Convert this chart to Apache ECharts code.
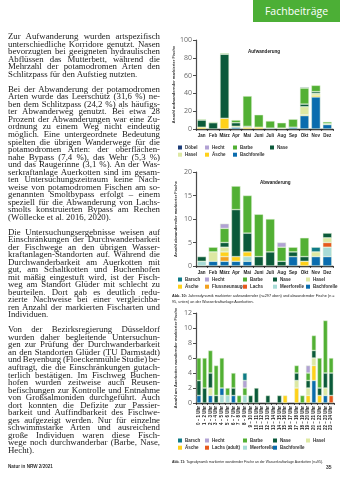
<!DOCTYPE html>
<html lang="de">
<head>
<meta charset="utf-8">
<title>Fachbeiträge – Auerkotten</title>
<script src="https://cdn.jsdelivr.net/npm/echarts@6/dist/echarts.min.js"></script>
<style>
  html, body { margin: 0; padding: 0; background: #fff; }
  #page { position: relative; width: 340px; height: 481px; overflow: hidden; background: #fff; }
  #chart { position: absolute; left: 0; top: 0; width: 340px; height: 481px; }
  #head { position: absolute; left: 253px; top: 0; width: 87px; height: 22px; background: #4caf36;
          color: #fff; font-family: 'Open Sans', 'Noto Sans', sans-serif; font-size: 10.5px;
          line-height: 23px; text-align: center; }
  #col { position: absolute; left: 8px; top: 33.3px; width: 152px;
         font-family: 'Liberation Serif', 'DejaVu Serif', serif; font-size: 8.8px; color: #1a1a1a; }
  #col .l { height: 7.53px; line-height: 7.53px; white-space: nowrap; }
  #col .gap { height: 7.53px; }
  .cap { position: absolute; left: 172px; font-family: 'Liberation Sans', 'Noto Sans', sans-serif;
         font-size: 4px; line-height: 6px; color: #222; white-space: nowrap; }
  .cap b { font-weight: bold; }
  .foot { position: absolute; top: 464px; font-family: 'Liberation Sans', sans-serif; font-size: 4.6px;
          font-weight: bold; color: #333; }
</style>
</head>
<body>
<div id="page">
  <div id="chart"></div>
  <div id="head">Fachbeiträge</div>
  <div id="col"></div>
  <div class="cap" id="cap10" style="top:293px"><span><b>Abb. 10:</b> Jahresdynamik markierter aufwandernder (n=297 oben) und abwandernder Fische (n =</span><br><span>95, unten) an der Wasserkraftanlage Auerkotten.</span></div>
  <div class="cap" id="cap11" style="top:459px"><span><b>Abb. 11:</b> Tagesdynamik markierter wandernder Fische an der Wasserkraftanlage Auerkotten (n=95).</span></div>
  <div class="foot" style="left:8px">Natur in NRW 2/2021</div>
  <div class="foot" style="left:326px;font-size:5px">35</div>
</div>
<script>
// ---------- Kategorien ----------
const months = ['Jan', 'Feb', 'März', 'Apr', 'Mai', 'Juni', 'Juli', 'Aug', 'Sep', 'Okt', 'Nov', 'Dez'];
const hours = ['0 – 1 Uhr', '1 – 2 Uhr', '2 – 3 Uhr', '3 – 4 Uhr', '4 – 5 Uhr', '5 – 6 Uhr',
               '6 – 7 Uhr', '7 – 8 Uhr', '8 – 9 Uhr', '9 – 10 Uhr', '10 – 11 Uhr', '11 – 12 Uhr',
               '12 – 13 Uhr', '13 – 14 Uhr', '14 – 15 Uhr', '15 – 16 Uhr', '16 – 17 Uhr', '17 – 18 Uhr',
               '18 – 19 Uhr', '19 – 20 Uhr', '20 – 21 Uhr', '21 – 22 Uhr', '22 – 23 Uhr', '23 – 24 Uhr'];

// ---------- Abb. 10 oben: Aufwanderung (n=297), je Monat ----------
const aufBachforelle = [0, 0, 0, 2, 0, 0, 1, 0, 2, 15, 36, 5];
const aufAesche      = [2, 0, 12, 1, 2, 2, 0, 0, 0, 1, 2, 0];
const aufHasel       = [0, 0, 0, 0, 0, 0, 0, 1, 0, 9, 2, 1];
const aufNase        = [8, 7, 72, 4, 1, 0, 0, 0, 0, 3, 2, 0];
const aufBarbe       = [1, 1, 1, 3, 34, 14, 8, 6, 9, 18, 7, 2];
const aufHecht       = [0, 0, 0, 0, 0, 0, 0, 0, 0, 0, 0, 0];
const aufDoebel      = [0, 0, 0, 0, 0, 0, 0, 0, 0, 1, 0, 0];

// ---------- Abb. 10 unten: Abwanderung (n=95), je Monat ----------
const abBachforelle   = [0, 1, 1, 1, 1, 0, 0, 0, 2, 0, 2, 2];
const abMeerforelle   = [1, 0, 0, 0, 1, 0, 0, 0, 0, 0, 0, 2];
const abFlussneunauge = [0, 0, 1, 0, 0, 0, 0, 0, 0, 0, 0, 0];
const abLachs         = [0, 0, 0, 0, 0, 0, 0, 0, 0, 0, 0, 1];
const abAesche        = [0, 0, 1, 1, 1, 0, 0, 0, 0, 1, 0, 0];
const abHasel         = [0, 2, 1, 0, 0, 0, 0, 0, 0, 0, 1, 1];
const abNase          = [1, 0, 1, 10, 4, 2, 3, 1, 1, 1, 0, 1];
const abBarbe         = [0, 1, 3, 5, 8, 9, 7, 3, 1, 4, 0, 0];
const abHecht         = [0, 0, 1, 0, 0, 0, 0, 1, 0, 0, 0, 0];
const abBarsch        = [0, 0, 0, 0, 0, 0, 0, 0, 0, 0, 1, 0];

// ---------- Abb. 11: Tagesdynamik (n=95), je Stunde ----------
const tagMeerforelle = [0, 0, 0, 0, 1, 1, 0, 0, 1, 0, 0, 0, 0, 0, 0, 0, 0, 0, 0, 0, 0, 0, 0, 0];
const tagLachs       = [0, 0, 0, 0, 0, 0, 0, 0, 0, 0, 0, 0, 0, 0, 0, 0, 0, 0, 0, 0, 0, 0, 0, 1];
const tagBachforelle = [1, 0, 1, 0, 1, 0, 1, 0, 0, 0, 0, 0, 0, 0, 0, 0, 0, 0, 0, 0, 3, 0, 1, 0];
const tagAesche      = [0, 0, 0, 0, 0, 0, 0, 0, 0, 0, 0, 0, 0, 0, 0, 1, 0, 2, 0, 1, 2, 1, 0, 0];
const tagHasel       = [0, 0, 1, 0, 0, 0, 0, 0, 0, 0, 0, 0, 0, 0, 0, 0, 0, 1, 0, 1, 1, 0, 1, 0];
const tagNase        = [2, 2, 2, 1, 0, 0, 1, 0, 0, 1, 2, 0, 1, 0, 1, 0, 0, 1, 0, 1, 1, 1, 2, 3];
const tagBarbe       = [3, 4, 3, 4, 4, 1, 2, 1, 1, 0, 0, 0, 0, 0, 0, 0, 0, 1, 1, 1, 2, 4, 7, 2];
const tagHecht       = [0, 0, 0, 0, 0, 0, 0, 0, 1, 0, 0, 0, 0, 0, 0, 0, 0, 0, 0, 1, 0, 0, 0, 0];
const tagBarsch      = [0, 0, 0, 0, 0, 0, 0, 0, 1, 0, 0, 0, 0, 0, 0, 0, 0, 0, 0, 0, 0, 0, 0, 0];

// ---------- Fließtext ----------
const paragraphs = [
  ['Zur Aufwanderung wurden artspezifisch',
   'unterschiedliche Korridore genutzt. Nasen',
   'bevorzugten bei geeigneten hydraulischen',
   'Abflüssen das Mutterbett, während die',
   'Mehrzahl der potamodromen Arten den',
   'Schlitzpass für den Aufstieg nutzten.'],
  ['Bei der Abwanderung der potamodromen',
   'Arten wurde das Leerschütz (31,6 %) ne-',
   'ben dem Schlitzpass (24,2 %) als häufigs-',
   'ter Abwanderweg genutzt. Bei etwa 28',
   'Prozent der Abwanderungen war eine Zu-',
   'ordnung zu einem Weg nicht eindeutig',
   'möglich. Eine untergeordnete Bedeutung',
   'spielten die übrigen Wanderwege für die',
   'potamodromen Arten: der oberflächen-',
   'nahe Bypass (7,4 %), das Wehr (5,3 %)',
   'und das Raugerinne (3,1 %). An der Was-',
   'serkraftanlage Auerkotten sind im gesam-',
   'ten Untersuchungszeitraum keine Nach-',
   'weise von potamodromen Fischen am so-',
   'genannten Smoltbypass erfolgt – einem',
   'speziell für die Abwanderung von Lachs-',
   'smolts konstruierten Bypass am Rechen',
   '(Wöllecke et al. 2016, 2020).'],
  ['Die Untersuchungsergebnisse weisen auf',
   'Einschränkungen der Durchwanderbarkeit',
   'der Fischwege an den übrigen Wasser-',
   'kraftanlagen-Standorten auf. Während die',
   'Durchwanderbarkeit am Auerkotten mit',
   'gut, am Schaltkotten und Buchenhofen',
   'mit mäßig eingestuft wird, ist der Fisch-',
   'weg am Standort Glüder mit schlecht zu',
   'beurteilen. Dort gab es deutlich redu-',
   'zierte Nachweise bei einer vergleichba-',
   'ren Anzahl der markierten Fischarten und',
   'Individuen.'],
  ['Von der Bezirksregierung Düsseldorf',
   'wurden daher begleitende Untersuchun-',
   'gen zur Prüfung der Durchwanderbarkeit',
   'an den Standorten Glüder (TU Darmstadt)',
   'und Beyenburg (Floeckenmühle Studie) be-',
   'auftragt, die die Einschränkungen gutach-',
   'terlich bestätigen. Im Fischweg Buchen-',
   'hofen wurden zeitweise auch Reusen-',
   'befischungen zur Kontrolle und Entnahme',
   'von Großsalmoniden durchgeführt. Auch',
   'dort konnten die Defizite zur Passier-',
   'barkeit und Auffindbarkeit des Fischwe-',
   'ges aufgezeigt werden. Nur für einzelne',
   'schwimmstarke Arten und ausreichend',
   'große Individuen waren diese Fisch-',
   'wege noch durchwanderbar (Barbe, Nase,',
   'Hecht).']
];

// Blocksatz: jede Zeile außer der letzten eines Absatzes wird über den Wortabstand
// auf die volle Spaltenbreite gebracht.
const COL_W = 152;
const col = document.getElementById('col');
paragraphs.forEach((p, pi) => {
  if (pi > 0) { const g = document.createElement('div'); g.className = 'gap'; col.appendChild(g); }
  p.forEach((line, li) => {
    const d = document.createElement('div');
    d.className = 'l';
    const s = document.createElement('span');
    s.textContent = line;
    d.appendChild(s);
    col.appendChild(d);
    if (li < p.length - 1) {
      const w = s.getBoundingClientRect().width;
      const spaces = (line.match(/ /g) || []).length;
      if (spaces > 0) d.style.wordSpacing = ((COL_W - w) / spaces) + 'px';
    }
  });
});

// Bildunterschriften auf die Satzbreite bringen
function fitCaption(id, target) {
  const el = document.getElementById(id);
  const first = el.querySelector('span');
  const w = first.getBoundingClientRect().width;
  const fs = parseFloat(getComputedStyle(el).fontSize);
  el.style.fontSize = (fs * target / w) + 'px';
}
fitCaption('cap10', 163);
fitCaption('cap11', 152);

// ---------- Farben der Arten ----------
const speciesColor = {
  'Döbel': '#1c3c78', 'Hecht': '#b2a2d4', 'Barbe': '#52b034', 'Nase': '#0b5a3a',
  'Hasel': '#dde8a2', 'Äsche': '#ffd11a', 'Bachforelle': '#0a6cae', 'Barsch': '#0f7b87',
  'Flussneunauge': '#f4a11f', 'Lachs': '#e7581d', 'Lachs (adult)': '#e7581d', 'Meerforelle': '#a8dbd7'
};

// ---------- Diagramm ----------
const chart = echarts.init(document.getElementById('chart'), null, { renderer: 'canvas' });

const grids = [
  { left: 196, top: 40,  width: 137, height: 89 },
  { left: 196, top: 172, width: 137, height: 94 },
  { left: 196, top: 313, width: 138, height: 90 }
];

function yAx(gi, max, interval, name) {
  return {
    gridIndex: gi, type: 'value', min: 0, max: max, interval: interval,
    axisLine: { show: true, lineStyle: { color: '#4a4a4a', width: 1.2 } },
    axisTick: { show: true, length: 3, lineStyle: { color: '#4a4a4a', width: 1 } },
    splitLine: { show: false },
    axisLabel: { fontSize: 7, color: '#6a6a6a', margin: 4, fontFamily: 'Open Sans' },
    name: name, nameLocation: 'middle', nameRotate: 90, nameGap: 18,
    nameTextStyle: { fontSize: 4, fontWeight: 'bold', color: '#333', fontFamily: 'Liberation Sans' }
  };
}
function xAx(gi, data, rotate) {
  return {
    gridIndex: gi, type: 'category', data: data,
    axisLine: { show: true, lineStyle: { color: '#2b2b2b', width: 1.4 } },
    axisTick: { show: true, length: 2, lineStyle: { color: '#2b2b2b', width: 0.8 } },
    axisLabel: { fontSize: 4.5, fontWeight: 'bold', color: '#222', margin: rotate ? 3 : 4,
                 rotate: rotate || 0, interval: 0, fontFamily: 'Liberation Sans' }
  };
}

function stackSeries(gi, stack, list, barWidth) {
  return list.map(([name, values]) => ({
    type: 'bar', name: name, stack: stack, xAxisIndex: gi, yAxisIndex: gi,
    barWidth: barWidth,
    data: values.map(v => (v > 0 ? v : '-')),
    itemStyle: { color: speciesColor[name], borderColor: '#e3f0d8', borderWidth: 0.5 },
    emphasis: { disabled: true },
    animation: false
  }));
}

const series = [].concat(
  stackSeries(0, 'auf', [
    ['Bachforelle', aufBachforelle], ['Äsche', aufAesche], ['Hasel', aufHasel],
    ['Nase', aufNase], ['Barbe', aufBarbe], ['Hecht', aufHecht], ['Döbel', aufDoebel]
  ], 9),
  stackSeries(1, 'ab', [
    ['Bachforelle', abBachforelle], ['Meerforelle', abMeerforelle], ['Flussneunauge', abFlussneunauge],
    ['Lachs', abLachs], ['Äsche', abAesche], ['Hasel', abHasel], ['Nase', abNase],
    ['Barbe', abBarbe], ['Hecht', abHecht], ['Barsch', abBarsch]
  ], 9),
  stackSeries(2, 'tag', [
    ['Meerforelle', tagMeerforelle], ['Lachs (adult)', tagLachs], ['Bachforelle', tagBachforelle],
    ['Äsche', tagAesche], ['Hasel', tagHasel], ['Nase', tagNase], ['Barbe', tagBarbe],
    ['Hecht', tagHecht], ['Barsch', tagBarsch]
  ], 4.4)
);

// Legenden: je Spalte eine Legende, damit die Einträge spaltenweise fluchten
function legendColumns(columns, xs, top) {
  return columns.map((names, i) => ({
    orient: 'vertical', left: xs[i], top: top, itemGap: 2.2, itemWidth: 4, itemHeight: 4,
    icon: 'rect', selectedMode: false, padding: 0,
    textStyle: { fontSize: 4.5, fontWeight: 'bold', color: '#333', padding: [0, 0, 0, -2], fontFamily: 'Liberation Sans' },
    itemStyle: { borderWidth: 0 },
    data: names
  }));
}
const legends = [].concat(
  legendColumns([['Döbel', 'Hasel'], ['Hecht', 'Äsche'], ['Barbe', 'Bachforelle'], ['Nase']],
                [178, 205, 233, 270], 145),
  legendColumns([['Barsch', 'Äsche'], ['Hecht', 'Flussneunauge'], ['Barbe', 'Lachs'], ['Nase', 'Meerforelle'], ['Hasel', 'Bachforelle']],
                [178, 205, 243, 273, 306], 277),
  legendColumns([['Barsch', 'Äsche'], ['Hecht', 'Lachs (adult)'], ['Barbe', 'Meerforelle'], ['Nase', 'Bachforelle'], ['Hasel']],
                [178, 205, 243, 273, 306], 438)
);

chart.setOption({
  animation: false,
  grid: grids,
  xAxis: [xAx(0, months), xAx(1, months), xAx(2, hours, 90)],
  yAxis: [
    yAx(0, 100, 20, 'Anzahl aufwandernder markierter Fische'),
    yAx(1, 20, 5, 'Anzahl abwandernder markierter Fische'),
    yAx(2, 12, 2, 'Anzahl am Auerkotten wandernder markierter Fische')
  ],
  title: [
    { text: 'Aufwanderung', left: 243, top: 44, textStyle: { fontSize: 4.6, fontWeight: 'bold', color: '#222', fontFamily: 'Liberation Sans' } },
    { text: 'Abwanderung', left: 255, top: 175, textStyle: { fontSize: 4.6, fontWeight: 'bold', color: '#222', fontFamily: 'Liberation Sans' } }
  ],
  legend: legends,
  series: series
});
</script>
</body>
</html>
